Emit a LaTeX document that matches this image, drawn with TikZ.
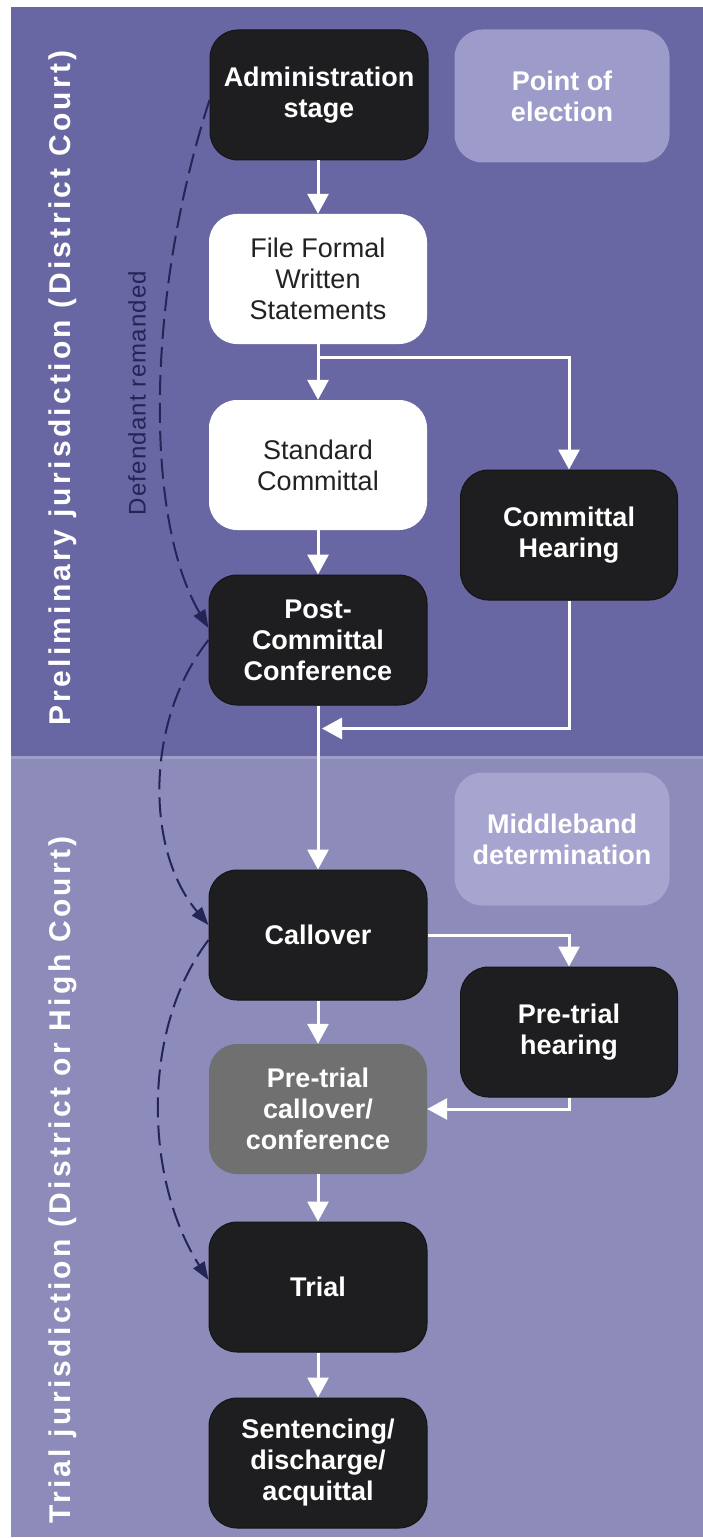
\documentclass[tikz,border=0pt]{standalone}
\usepackage{fontspec}
\setmainfont{Liberation Sans}
\newfontfamily\sidefont[LetterSpace=11]{Liberation Sans}
\newfontfamily\notefont[LetterSpace=5]{Liberation Sans}
\usetikzlibrary{arrows.meta,calc}

\definecolor{bandtop}{RGB}{104,103,163}
\definecolor{bandlow}{RGB}{140,139,186}
\definecolor{bandline}{RGB}{158,157,200}
\definecolor{stepdark}{RGB}{30,30,32}
\definecolor{steplight}{RGB}{156,155,201}
\definecolor{steplighter}{RGB}{166,165,207}
\definecolor{stepgrey}{RGB}{112,112,112}
\definecolor{remand}{RGB}{36,36,86}
\definecolor{inktext}{RGB}{34,34,34}

\tikzset{
  stage/.style={rounded corners=28pt, minimum width=218pt, minimum height=130pt,
    align=center, inner sep=0pt, font=\fontsize{27pt}{31pt}\selectfont},
  darkstage/.style={stage, fill=stepdark, draw=stepdark!70!black, line width=1pt,
    text=white, font=\fontsize{27pt}{31pt}\selectfont\bfseries},
  whitestage/.style={stage, fill=white, text=inktext},
  greystage/.style={stage, fill=stepgrey, text=white,
    font=\fontsize{27pt}{31pt}\selectfont\bfseries},
  notestage/.style={stage, minimum width=215pt, minimum height=133pt, text=white,
    font=\fontsize{27pt}{31pt}\selectfont\bfseries},
  flow/.style={draw=white, line width=3pt,
    -{Triangle[length=20pt,width=21pt,fill=white]}},
  remandflow/.style={draw=remand, line width=2pt, dash pattern=on 20pt off 8pt,
    -{Triangle[length=18pt,width=13pt,fill=remand]}},
  sidelabel/.style={rotate=90, text=white,
    font=\fontsize{30pt}{34pt}\sidefont\bfseries},
}

\begin{document}
\begin{tikzpicture}[x=1pt,y=-1pt]
\useasboundingbox (0,0) rectangle (703,1538);

% jurisdiction bands
\fill[bandtop] (11,7) rectangle (703,757);
\fill[bandlow] (11,757) rectangle (703,1537);
\fill[bandline] (11,756) rectangle (703,759);

% band titles
\node[sidelabel] (prelim) at (63,388) {Preliminary jurisdiction (District Court)};
\node[sidelabel] (trialjur) at (63,1180) {Trial jurisdiction (District or High Court)};
\node[rotate=90, text=remand, font=\fontsize{24pt}{28pt}\notefont] (remandlbl) at (137,393) {Defendant remanded};

% decision points
\node[notestage, fill=steplight] (election) at (562,96) {Point of\\election};
\node[notestage, fill=steplighter] (middleband) at (562,839) {Middleband\\determination};

% main sequence
\node[darkstage] (admin) at (319,95) {Administration\\stage};
\node[whitestage] (file) at (318,279) {File Formal\\Written\\Statements};
\node[whitestage] (standard) at (318,465) {Standard\\Committal};
\node[darkstage, minimum width=217pt] (chearing) at (569,535) {Committal\\Hearing};
\node[darkstage] (post) at (318,640) {Post-\\Committal\\Conference};
\node[darkstage] (callover) at (318,935) {Callover};
\node[darkstage, minimum width=217pt] (pthearing) at (569,1032) {Pre-trial\\hearing};
\node[greystage] (ptcall) at (318,1109) {Pre-trial\\callover/\\conference};
\node[darkstage] (trial) at (318,1287) {Trial};
\node[darkstage] (sentence) at (318,1463) {Sentencing/\\discharge/\\acquittal};

% flow between stages
\draw[flow] (admin.south -| file.north) -- (file.north);
\draw[flow] (file.south) -- (standard.north);
\draw[flow] ($(file.south)+(0,13)$) -| (chearing.north);
\draw[flow] (standard.south) -- (post.north);
\draw[flow] (chearing.south) |- ($(post.south)+(4,23)$);
\draw[flow] (post.south) -- (callover.north);
\draw[flow] (callover.east) -| (pthearing.north);
\draw[flow] (callover.south) -- (ptcall.north);
\draw[flow] (pthearing.south) |- (ptcall.east);
\draw[flow] (ptcall.south) -- (trial.north);
\draw[flow] (trial.south) -- (sentence.north);

% remand paths
\draw[remandflow] ($(admin.west)+(0,5)$) .. controls (145,300) and (145,520) .. ($(post.west)+(0,-12)$);
\draw[remandflow] (post.west) .. controls (145,720) and (145,850) .. ($(callover.west)+(0,-10)$);
\draw[remandflow] ($(callover.west)+(0,5)$) .. controls (140,1030) and (145,1180) .. ($(trial.west)+(0,-7)$);
\end{tikzpicture}
\end{document}
